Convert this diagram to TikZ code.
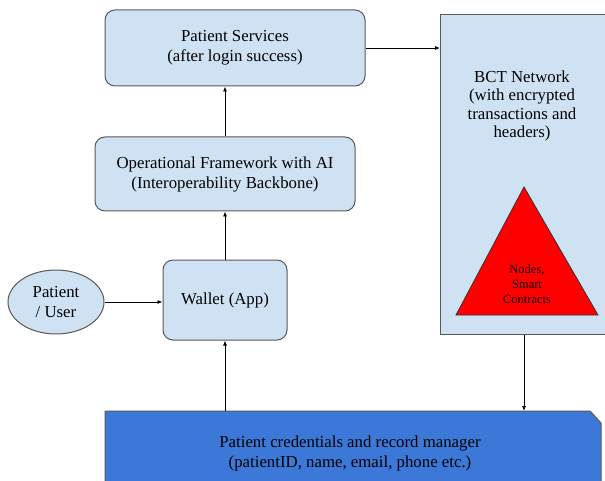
\documentclass[tikz,border=0pt]{standalone}
\usepackage{fontspec}
\setmainfont{Liberation Serif}
\usetikzlibrary{arrows.meta,shapes.geometric}
\definecolor{paleblue}{HTML}{CFE2F3}
\definecolor{deepblue}{HTML}{3C78D8}
\definecolor{edgegray}{HTML}{595959}
\tikzset{
  box/.style={draw=edgegray, line width=1pt, fill=paleblue, rounded corners=10pt, align=center, font=\fontsize{16.8}{20}\selectfont},
  link/.style={-{Latex[length=5pt,width=4pt]}, line width=0.8pt}
}
\begin{document}
\begin{tikzpicture}[x=1pt,y=-1pt]
				\useasboundingbox (0,0) rectangle (605,481);
				\clip (0,0) rectangle (605,481);
				\node[box, minimum width=260pt, minimum height=76pt] (ps) at (235,48) {Patient Services\\(after login success)};
				\node[box, minimum width=260pt, minimum height=74pt] (op) at (225,174) {Operational Framework with AI\\(Interoperability Backbone)};
				\node[box, minimum width=124pt, minimum height=80pt] (wal) at (225,300) {Wallet (App)};
				\node[box, ellipse, rounded corners=0pt, minimum width=96pt, minimum height=64pt, inner sep=0pt] (usr) at (56,302) {Patient\\/ User};
				\node[box, rounded corners=0pt, anchor=north west, minimum width=175pt, minimum height=320pt] (bct) at (440,14) {};
				\node[align=center, font=\fontsize{16.8}{18.5}\selectfont] (bcttxt) at (522,106) {BCT Network\\(with encrypted\\transactions and\\headers)};
				\coordinate (tritop) at (524,187);
				\coordinate (trileft) at (456,315);
				\coordinate (triright) at (598,315);
				\filldraw[fill=red, draw=black!80, line width=0.8pt] (tritop) -- (trileft) -- (triright) -- cycle;
				\node[align=center, font=\fontsize{12.5}{15}\selectfont] (nodes) at (527,284) {Nodes,\\Smart\\Contracts};
				\filldraw[fill=deepblue, draw=edgegray, line width=1pt] (105,411) -- (590,411) -- (601,423) -- (601,495) -- (105,495) -- cycle;
				\node[align=center, font=\fontsize{16.8}{20}\selectfont] (rec) at (350,453) {Patient credentials and record manager\\(patientID, name, email, phone etc.)};
				\coordinate (recl) at (225,411);
				\coordinate (recr) at (524,411);
				\draw[link] (ps.east) -- (ps.east -| bct.west);
				\draw[link] (op.north) -- (op.north |- ps.south);
				\draw[link] (wal.north) -- (op.south);
				\draw[link] (usr.east) -- (usr.east -| wal.west);
				\draw[link] (recl) -- (wal.south);
				\draw[link] (bct.south -| recr) -- (recr);
			\end{tikzpicture}
\end{document}
